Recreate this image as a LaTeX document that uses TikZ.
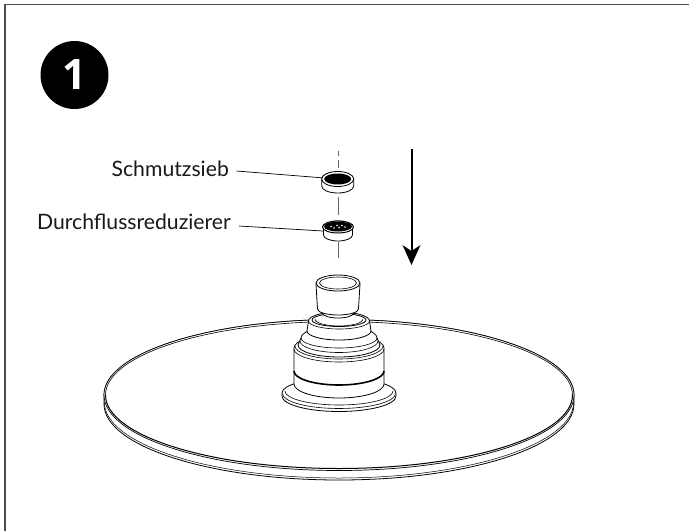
\documentclass[tikz,border=0pt]{standalone}
\usepackage{fontspec}
\setmainfont{Lato}
\newfontfamily\badgefont{Open Sans}
\newcommand{\cyl}[6]{% cx y1 r1 y2 r2 ry
  \path[part] ({#1-#3},#2) -- ({#1-#5},#4) arc[start angle=180,end angle=0,x radius=#5,y radius=#6]
    -- ({#1+#3},#2) arc[start angle=360,end angle=180,x radius=#3,y radius=#6] -- cycle;}
\newcommand{\frontarc}[4]{% cx y r ry
  \draw[linepart] ({#1-#3},#2) arc[start angle=180,end angle=0,x radius=#3,y radius=#4];}
\tikzset{
  part/.style={draw=black,fill=white,line width=0.8pt,line join=round},
  linepart/.style={draw=black,line width=0.6pt},
  partlabel/.style={font=\fontsize{21.2}{24}\selectfont,text=black!90,inner sep=0pt,anchor=base east},
  leader/.style={draw=black,line width=0.7pt},
  axisline/.style={draw=black!60,line width=1pt},
  framerule/.style={draw=black!70,line width=1.6pt},
}
\begin{document}
\begin{tikzpicture}[x=1pt,y=-1pt]
\useasboundingbox (0,0) rectangle (689,531);
\fill[white] (0,0) rectangle (689,531);
% frame
\draw[framerule] (5,531) -- (5,4.5) -- (689,4.5);
% badge
\node[circle,fill=black,minimum size=68pt,inner sep=0pt,text=white,font=\badgefont\bfseries\fontsize{42}{42}\selectfont] (badge) at (74.5,75) {1};
% disc
\path[part] (104,395) -- (104,404) arc[start angle=180,end angle=0,x radius=235,y radius=76] -- (574,395) arc[start angle=360,end angle=180,x radius=235,y radius=75.5] -- cycle;
\draw[linepart,line width=0.5pt] (104.3,402) arc[start angle=180,end angle=0,x radius=234.7,y radius=76];
\draw[part,line width=0.7pt] (339,395) ellipse[x radius=235,y radius=75.5];
\draw[linepart,line width=0.6pt] (105.5,395) arc[start angle=180,end angle=360,x radius=233.5,y radius=73.5];
\draw[linepart,line width=1pt] (105.5,395) arc[start angle=180,end angle=0,x radius=233.5,y radius=73.5];
% hub: flange
\path[part] (282,393) -- (282,396) arc[start angle=180,end angle=0,x radius=57,y radius=15.5] -- (396,393) arc[start angle=360,end angle=180,x radius=57,y radius=15] -- cycle;
\frontarc{339}{393.5}{56.5}{15}
\frontarc{339}{391}{54}{14}
% hub: body
\cyl{339}{348}{45}{384}{45}{14}
\draw[linepart,line width=1.6pt] (294,371) arc[start angle=180,end angle=0,x radius=45,y radius=14];
\frontarc{339}{349}{45}{13}
\frontarc{339}{346}{44}{13}
\cyl{339}{338}{38}{345}{41}{12}
\frontarc{339}{341}{39}{11.5}
\frontarc{339}{338}{38}{10}
\cyl{339}{321}{30.5}{331}{32}{9}
\frontarc{339}{321}{30.5}{8}
\draw[part] (339,320) ellipse[x radius=27,y radius=6.5];
\frontarc{339}{319}{24}{7}
% hub: cup
\path[part] (322.5,311) -- (322.5,313) arc[start angle=180,end angle=0,x radius=15.5,y radius=5] -- (353.5,311) -- cycle;
\cyl{338}{284}{22}{309}{20.5}{6}
\draw[part] (338,283) ellipse[x radius=22,y radius=8];
\draw[linepart] (338,283) ellipse[x radius=18.5,y radius=6];
% axis
\draw[axisline] (338,151) -- (338,155.5);
\draw[axisline] (338,160) -- (338,168);
\draw[axisline] (338,197) -- (338,215);
\draw[axisline] (338,242) -- (338,258);
% strainer
\cyl{337.7}{179}{16}{186}{16}{7}
\draw[part] (337.7,179) ellipse[x radius=16,y radius=7.5];
\fill[black] (337.7,179) ellipse[x radius=13.5,y radius=5.5];
% reducer
\cyl{338}{227}{14.5}{235}{14.5}{6}
\draw[part,line width=1pt] (338,227) ellipse[x radius=15.5,y radius=6];
\fill[black] (338,226.5) ellipse[x radius=14,y radius=5];
\foreach \dx/\dy in {-7/0,-4/1.5,-1/-1,1/1,4/-1,7/0.5}
  \fill[white] ({338+\dx},{226.5+\dy}) circle[radius=0.9];
% arrow
\coordinate (arrowstart) at (411.5,149);
\coordinate (arrowneck) at (411.5,252);
\draw[black,line width=2pt] (arrowstart) -- (arrowneck);
\fill[black] (411.5,265) -- (402.5,245) -- (411.5,251) -- (420.5,245) -- cycle;
% labels
\node[partlabel] (sieb) at (229,176) {Schmutzsieb};
\node[partlabel] (reducer) at (231,229) {Durchflussreduzierer};
\coordinate (siebend) at (322,177.8);
\coordinate (reducerend) at (323,231);
\draw[leader] (236.5,171) -- (siebend);
\draw[leader] (239,226) -- (reducerend);
\end{tikzpicture}
\end{document}
